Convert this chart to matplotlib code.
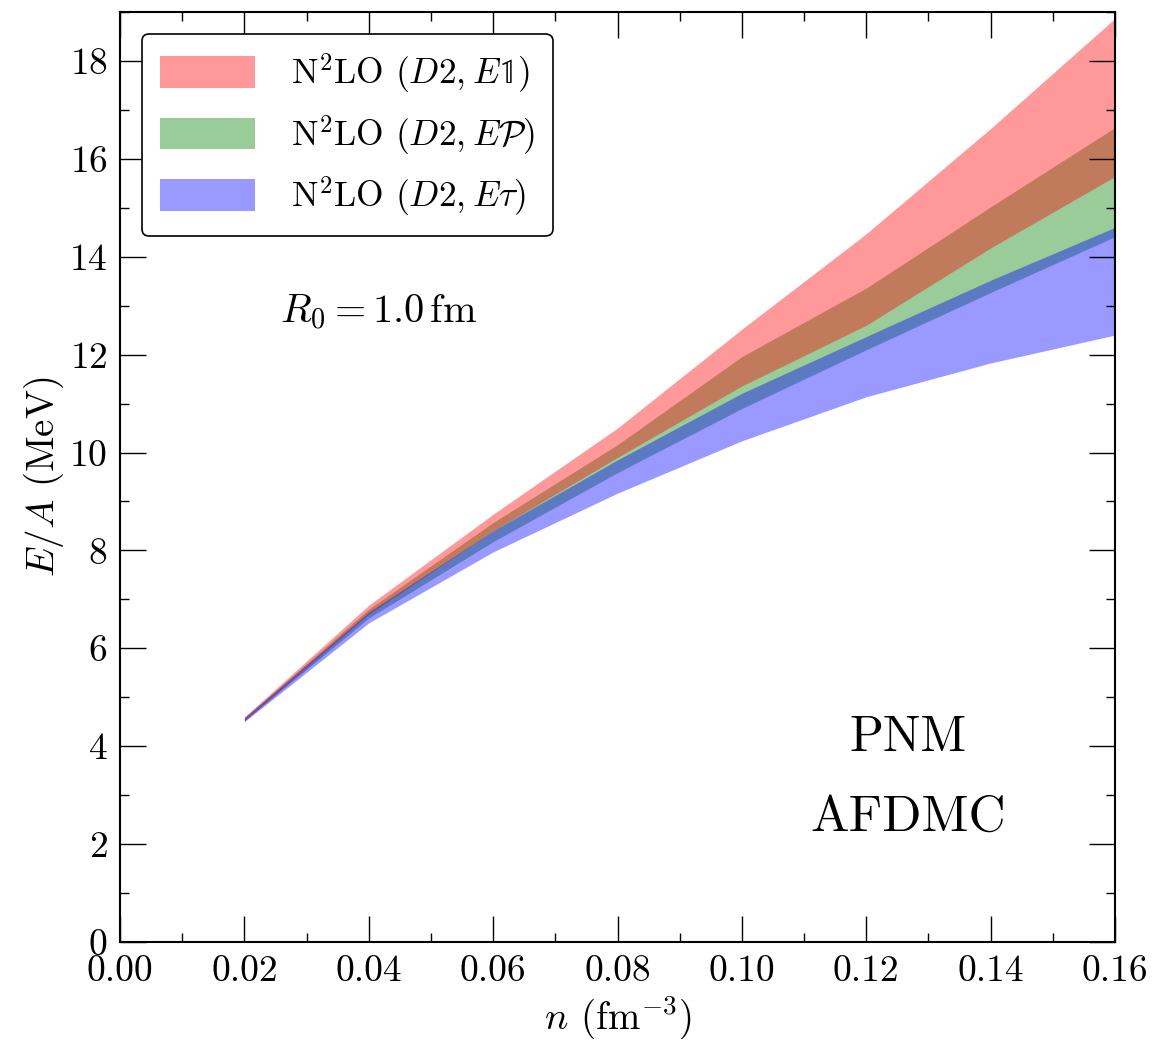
import matplotlib
matplotlib.use('Agg')
import matplotlib.pyplot as plt
from matplotlib.ticker import MultipleLocator
import numpy as np

plt.rcParams['font.family'] = 'serif'
plt.rcParams['font.serif'] = ['cmr10']
plt.rcParams['mathtext.fontset'] = 'cm'
plt.rcParams['axes.formatter.use_mathtext'] = True

# density (fm^-3)
n = np.array([0.02, 0.04, 0.06, 0.08, 0.10, 0.12, 0.14, 0.16])

# E/A bands (MeV)
e1_lo = [4.52, 6.70, 8.40, 9.90, 11.36, 12.60, 14.18, 15.64]
e1_hi = [4.60, 6.88, 8.74, 10.50, 12.52, 14.47, 16.62, 18.87]
ep_lo = [4.52, 6.62, 8.18, 9.59, 10.90, 12.10, 13.27, 14.41]
ep_hi = [4.58, 6.80, 8.57, 10.16, 11.96, 13.36, 15.02, 16.64]
et_lo = [4.50, 6.52, 7.97, 9.17, 10.24, 11.14, 11.83, 12.40]
et_hi = [4.58, 6.74, 8.40, 9.85, 11.21, 12.37, 13.52, 14.60]

labels = [r'N$^2$LO $(D2, E\mathbb{1})$',
          r'N$^2$LO $(D2, E\mathcal{P})$',
          r'N$^2$LO $(D2, E\tau)$']

fig = plt.figure(figsize=(11.73, 10.41), dpi=100)
ax = fig.add_axes([0.1023, 0.0951, 0.8483, 0.8934])

# green first so red / blue sit on top of it
h_p = ax.fill_between(n, ep_lo, ep_hi, color='green', alpha=0.4, lw=0)
h_1 = ax.fill_between(n, e1_lo, e1_hi, color='red', alpha=0.4, lw=0)
h_t = ax.fill_between(n, et_lo, et_hi, color='blue', alpha=0.4, lw=0)

ax.set_xlim(0, 0.16)
ax.set_ylim(0, 19)
ax.xaxis.set_major_locator(MultipleLocator(0.02))
ax.xaxis.set_minor_locator(MultipleLocator(0.01))
ax.yaxis.set_major_locator(MultipleLocator(2))
ax.yaxis.set_minor_locator(MultipleLocator(1))
ax.xaxis.set_major_formatter(matplotlib.ticker.FormatStrFormatter('%.2f'))
ax.tick_params(which='both', direction='in', top=True, right=True,
               labelsize=27, pad=9, width=1.0)
ax.tick_params(which='major', length=18.5)
ax.tick_params(which='minor', length=6.5)
for s in ax.spines.values():
    s.set_linewidth(1.5)

ax.set_xlabel(r'$n$ (fm$^{-3}$)', fontsize=28, labelpad=4)
ax.set_ylabel(r'$E/A$ (MeV)', fontsize=28, labelpad=2)

leg = ax.legend([h_1, h_p, h_t], labels, loc='upper left', fontsize=25.5,
                handlelength=2.7, handleheight=1.0, handletextpad=1.0,
                labelspacing=0.5, borderpad=0.5, borderaxespad=0.62,
                fancybox=True, framealpha=1, edgecolor='black')
leg.get_frame().set_linewidth(1.2)

ax.text(0.161, 0.677, r'$R_0 = 1.0\,\mathrm{fm}$', transform=ax.transAxes,
        fontsize=29, va='center', ha='left')
ax.text(0.792, 0.219, 'PNM', transform=ax.transAxes, fontsize=36,
        ha='center', va='center')
ax.text(0.792, 0.134, 'AFDMC', transform=ax.transAxes, fontsize=37,
        ha='center', va='center')

fig.savefig('out.png', dpi=100)
